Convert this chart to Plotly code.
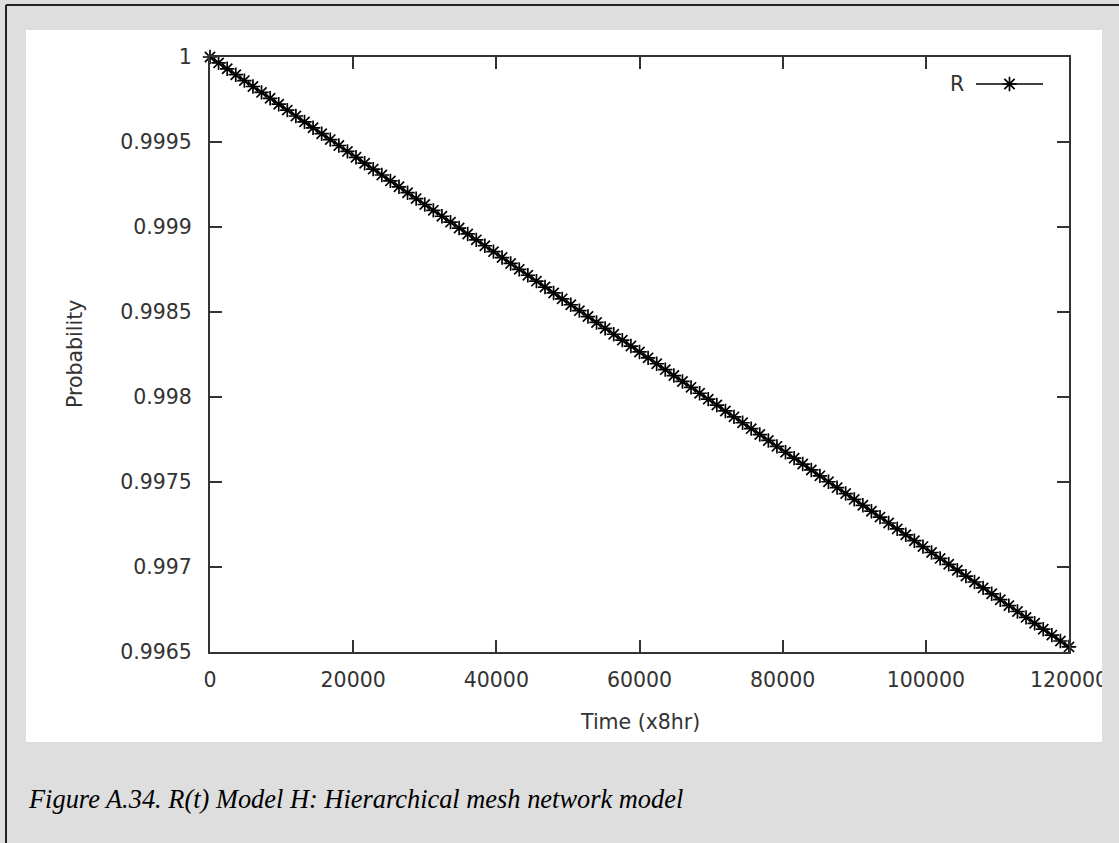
import plotly.graph_objects as go

# Reliability R(t) of the hierarchical mesh network model
time_x8hr = [
    0, 1200, 2400, 3600, 4800, 6000, 7200, 8400, 9600, 10800,
    12000, 13200, 14400, 15600, 16800, 18000, 19200, 20400, 21600, 22800,
    24000, 25200, 26400, 27600, 28800, 30000, 31200, 32400, 33600, 34800,
    36000, 37200, 38400, 39600, 40800, 42000, 43200, 44400, 45600, 46800,
    48000, 49200, 50400, 51600, 52800, 54000, 55200, 56400, 57600, 58800,
    60000, 61200, 62400, 63600, 64800, 66000, 67200, 68400, 69600, 70800,
    72000, 73200, 74400, 75600, 76800, 78000, 79200, 80400, 81600, 82800,
    84000, 85200, 86400, 87600, 88800, 90000, 91200, 92400, 93600, 94800,
    96000, 97200, 98400, 99600, 100800, 102000, 103200, 104400, 105600, 106800,
    108000, 109200, 110400, 111600, 112800, 114000, 115200, 116400, 117600, 118800,
    120000,
]
reliability = [
    1.0000000, 0.9999653, 0.9999306, 0.9998959, 0.9998612, 0.9998265, 0.9997918, 0.9997571, 0.9997224, 0.9996877,
    0.9996530, 0.9996183, 0.9995836, 0.9995489, 0.9995142, 0.9994795, 0.9994448, 0.9994101, 0.9993754, 0.9993407,
    0.9993060, 0.9992713, 0.9992366, 0.9992019, 0.9991672, 0.9991325, 0.9990978, 0.9990631, 0.9990284, 0.9989937,
    0.9989590, 0.9989243, 0.9988896, 0.9988549, 0.9988202, 0.9987855, 0.9987508, 0.9987161, 0.9986814, 0.9986467,
    0.9986120, 0.9985773, 0.9985426, 0.9985079, 0.9984732, 0.9984385, 0.9984038, 0.9983691, 0.9983344, 0.9982997,
    0.9982650, 0.9982303, 0.9981956, 0.9981609, 0.9981262, 0.9980915, 0.9980568, 0.9980221, 0.9979874, 0.9979527,
    0.9979180, 0.9978833, 0.9978486, 0.9978139, 0.9977792, 0.9977445, 0.9977098, 0.9976751, 0.9976404, 0.9976057,
    0.9975710, 0.9975363, 0.9975016, 0.9974669, 0.9974322, 0.9973975, 0.9973628, 0.9973281, 0.9972934, 0.9972587,
    0.9972240, 0.9971893, 0.9971546, 0.9971199, 0.9970852, 0.9970505, 0.9970158, 0.9969811, 0.9969464, 0.9969117,
    0.9968770, 0.9968423, 0.9968076, 0.9967729, 0.9967382, 0.9967035, 0.9966688, 0.9966341, 0.9965994, 0.9965647,
    0.9965300,
]
series_name = "R"

x_tick_vals = [0, 20000, 40000, 60000, 80000, 100000, 120000]
x_tick_text = ["0", "20000", "40000", "60000", "80000", "100000", "120000"]
y_tick_vals = [0.9965, 0.997, 0.9975, 0.998, 0.9985, 0.999, 0.9995, 1.0]
y_tick_text = ["0.9965", "0.997", "0.9975", "0.998", "0.9985", "0.999", "0.9995", "1"]

x_title = "Time (x8hr)"
y_title = "Probability"
caption = "Figure A.34. R(t) Model H: Hierarchical mesh network model"

# page geometry (pixels)
W, H = 1119, 843
PL, PR, PT, PB = 210, 1069, 57, 652
PAGE_GRAY = "#dedede"
INK = "#333333"
FONT = "DejaVu Sans"
FS = 20.5

STAR = dict(symbol="asterisk-open", size=12, color="black",
            line=dict(color="black", width=1.7))


def px(x):
    return (x - PL) / (PR - PL)


def py(y):
    return (PB - y) / (PB - PT)


fig = go.Figure()

fig.add_trace(go.Scatter(
    x=time_x8hr, y=reliability, name=series_name, mode="lines+markers",
    line=dict(color="black", width=1.5), marker=STAR,
    cliponaxis=False, showlegend=False, xaxis="x", yaxis="y",
))

# legend key: text, then a line sample with a point in its middle
fig.add_trace(go.Scatter(
    x=[0, 1], y=[0.5, 0.5], mode="lines", line=dict(color="black", width=1.5),
    showlegend=False, xaxis="x2", yaxis="y2", hoverinfo="skip",
))
fig.add_trace(go.Scatter(
    x=[0.5], y=[0.5], mode="markers", marker=STAR,
    showlegend=False, xaxis="x2", yaxis="y2", cliponaxis=False, hoverinfo="skip",
))

axis_common = dict(
    showline=True, linecolor=INK, linewidth=2, mirror="ticks",
    ticks="inside", ticklen=12, tickwidth=1.5, tickcolor=INK,
    showgrid=False, zeroline=False,
    tickfont=dict(family=FONT, size=FS, color=INK),
)

fig.update_layout(
    width=W, height=H,
    margin=dict(l=PL, r=W - PR, t=PT, b=H - PB),
    paper_bgcolor=PAGE_GRAY, plot_bgcolor="white",
    showlegend=False,
    xaxis=dict(range=[0, 120000], tickvals=x_tick_vals, ticktext=x_tick_text,
               ticklabelstandoff=8, **axis_common),
    yaxis=dict(range=[0.9965, 1.0], tickvals=y_tick_vals, ticktext=y_tick_text,
               ticklabelstandoff=12, **axis_common),
    xaxis2=dict(domain=[px(976), px(1043)], range=[0, 1], anchor="y2", visible=False),
    yaxis2=dict(domain=[py(94), py(74)], range=[0, 1], anchor="x2", visible=False),
)

shapes = [
    # white card behind the chart
    dict(type="rect", xref="paper", yref="paper", layer="below",
         x0=px(26), x1=px(1102), y0=py(742), y1=py(30),
         fillcolor="white", line=dict(width=0)),
    # gray strip to the right of the card (trims the last tick label)
    dict(type="rect", xref="paper", yref="paper", layer="above",
         x0=px(1102), x1=px(W + 2), y0=py(742), y1=py(30),
         fillcolor=PAGE_GRAY, line=dict(width=0)),
    # page border, left and top
    dict(type="line", xref="paper", yref="paper", layer="above",
         x0=px(6), x1=px(6), y0=py(5), y1=py(H + 2), line=dict(color="#222222", width=2)),
    dict(type="line", xref="paper", yref="paper", layer="above",
         x0=px(6), x1=px(W + 2), y0=py(5), y1=py(5), line=dict(color="#222222", width=2)),
]
fig.update_layout(shapes=shapes)

annotations = [
    dict(text=series_name, x=px(957), y=py(84), xref="paper", yref="paper",
         showarrow=False, xanchor="center", yanchor="middle",
         font=dict(family=FONT, size=FS, color=INK)),
    dict(text=x_title, x=px(639.5), y=py(722), xref="paper", yref="paper",
         showarrow=False, xanchor="center", yanchor="middle",
         font=dict(family=FONT, size=FS, color=INK)),
    dict(text=y_title, x=px(75), y=py(354), xref="paper", yref="paper",
         showarrow=False, xanchor="center", yanchor="middle", textangle=-90,
         font=dict(family=FONT, size=FS, color=INK)),
    dict(text="<i>" + caption + "</i>", x=px(26), y=py(799), xref="paper", yref="paper",
         showarrow=False, xanchor="left", yanchor="middle",
         font=dict(family="Liberation Serif", size=26.4, color="black")),
]
fig.update_layout(annotations=annotations)

fig.write_html("out.html")
